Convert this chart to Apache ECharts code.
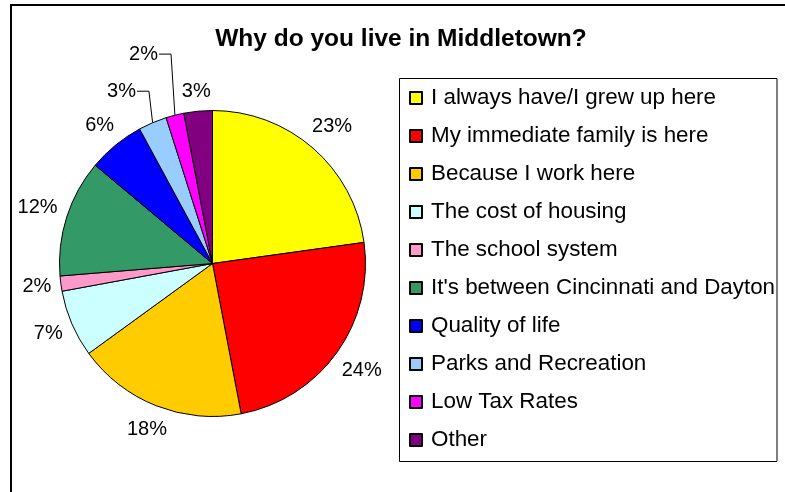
<!DOCTYPE html>
<html>
<head>
<meta charset="utf-8">
<script src="https://cdn.jsdelivr.net/npm/echarts@6/dist/echarts.min.js"></script>
<style>
  html, body { margin: 0; padding: 0; background: #fff; }
  #chart { width: 785px; height: 492px; }
</style>
</head>
<body>
<div id="chart"></div>
<script>
// Survey answers: "Why do you live in Middletown?" (share of responses, %)
const categories = [
  'I always have/I grew up here',
  'My immediate family is here',
  'Because I work here',
  'The cost of housing',
  'The school system',
  "It's between Cincinnati and Dayton",
  'Quality of life',
  'Parks and Recreation',
  'Low Tax Rates',
  'Other'
];
const shares = [22.8, 24.2, 18.0, 7.1, 1.6, 12.4, 6.0, 3.0, 1.9, 3.0];
const sliceColors = [
  '#FFFF00', '#FF0000', '#FFCC00', '#CCFFFF', '#FF99CC',
  '#339966', '#0000FF', '#99CCFF', '#FF00FF', '#800080'
];

const FONT = '"Liberation Sans", Arial, sans-serif';
const CX = 212.5, CY = 263.5, R = 153;
const LABEL_GAP = 8.5;

// Small slices whose labels are pulled aside and joined by a leader line
const callouts = { 7: { dx: -22, dy: -10 }, 8: { dx: -26, dy: -40 } };

const total = shares.reduce((a, b) => a + b, 0);
const midAngles = [];
let acc = 0;
shares.forEach(v => { midAngles.push((acc + v / 2) / total * 2 * Math.PI); acc += v; });

const pieData = categories.map((name, i) => ({
  name: name,
  value: shares[i],
  itemStyle: { color: sliceColors[i] },
  labelLine: { show: !!callouts[i] }
}));

const chart = echarts.init(document.getElementById('chart'), null, { renderer: 'canvas' });

chart.setOption({
  animation: false,
  backgroundColor: '#fff',
  title: {
    text: 'Why do you live in Middletown?',
    left: 401,
    top: 27,
    textAlign: 'center',
    padding: 0,
    textStyle: { fontFamily: FONT, fontWeight: 'bold', fontSize: 24.5, color: '#000' }
  },
  legend: {
    orient: 'vertical',
    left: 409,
    top: 86,
    padding: 0,
    itemWidth: 12,
    itemHeight: 12,
    itemGap: 14,
    icon: 'rect',
    selectedMode: false,
    data: categories,
    textStyle: {
      fontFamily: FONT, fontSize: 22.4, color: '#000',
      lineHeight: 24, padding: [0, 0, 0, 4]
    }
  },
  graphic: [
    { type: 'rect', silent: true, z: -1,
      shape: { x: 11, y: 5, width: 790, height: 500 },
      style: { fill: null, stroke: '#000', lineWidth: 2 } },
    { type: 'rect', silent: true, z: -1,
      shape: { x: 399.5, y: 78.5, width: 377.5, height: 383 },
      style: { fill: null, stroke: '#000', lineWidth: 1 } }
  ],
  series: [{
    type: 'pie',
    center: [CX, CY],
    radius: R,
    startAngle: 90,
    clockwise: true,
    avoidLabelOverlap: false,
    itemStyle: { borderColor: '#000', borderWidth: 1 },
    label: {
      show: true,
      position: 'outside',
      fontFamily: FONT,
      fontSize: 20,
      color: '#000',
      formatter: p => Math.round(p.value) + '%'
    },
    labelLine: {
      show: false,
      lineStyle: { color: '#000', width: 1 }
    },
    labelLayout: function (params) {
      const i = params.dataIndex;
      const a = midAngles[i];
      const s = Math.sin(a), c = Math.cos(a);
      const w = params.labelRect.width, h = params.labelRect.height;
      const ext = Math.abs(s) * w / 2 + Math.abs(c) * h / 2;
      const d = R + LABEL_GAP + ext;
      let x = CX + d * s;
      let y = CY - d * c;
      const out = { x: x, y: y, align: 'center', verticalAlign: 'middle' };
      const co = callouts[i];
      if (co) {
        x += co.dx; y += co.dy;
        out.x = x; out.y = y;
        const edgeX = CX + R * s, edgeY = CY - R * c;
        const right = x + w / 2 + 1;
        out.labelLinePoints = [[edgeX, edgeY], [right + 12, y], [right, y]];
      }
      return out;
    },
    data: pieData
  }]
});
</script>
</body>
</html>
